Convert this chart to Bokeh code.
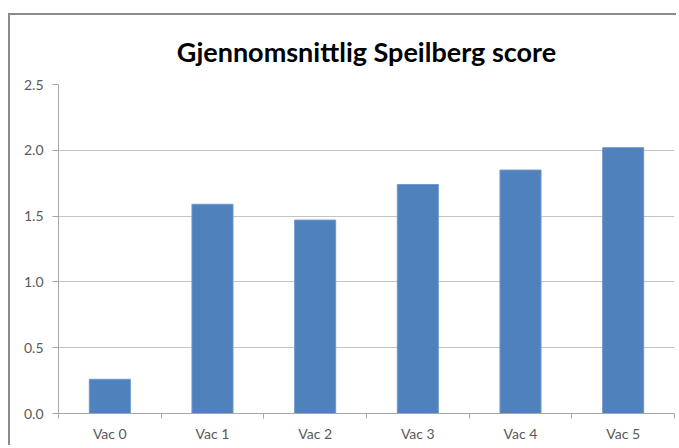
from bokeh.plotting import figure
from bokeh.models import FixedTicker, Range1d
from bokeh.embed import file_html
from bokeh.resources import INLINE

categories = ["Vac 0", "Vac 1", "Vac 2", "Vac 3", "Vac 4", "Vac 5"]
scores = [0.26, 1.59, 1.47, 1.74, 1.85, 2.02]
y_ticks = [0.0, 0.5, 1.0, 1.5, 2.0, 2.5]
y_labels = ["0.0", "0.5", "1.0", "1.5", "2.0", "2.5"]

xs = [i + 0.5 for i in range(len(categories))]

p = figure(width=668, height=432, output_backend="svg", toolbar_location=None,
           x_range=Range1d(0, len(categories)), y_range=Range1d(0, 2.5),
           min_border_left=48, min_border_right=4, min_border_bottom=34, min_border_top=69,
           margin=(13, 0, 0, 8),
           styles={"border-top": "2px solid #8a8a8a", "border-left": "2px solid #8a8a8a"})

p.title.text = "Gjennomsnittlig Speilberg score"
p.title.align = "center"
p.title.text_font = "Lato"
p.title.text_font_size = "27px"
p.title.text_font_style = "bold"
p.title.text_color = "#000000"
p.title.standoff = 34

p.vbar(x=xs, top=scores, width=0.4, fill_color="#4F81BD", line_color="#7199c9", line_width=1)

p.outline_line_color = None
p.background_fill_color = "white"
p.border_fill_color = "white"

# y axis
p.yaxis.ticker = FixedTicker(ticks=y_ticks)
p.yaxis.major_label_overrides = {t: l for t, l in zip(y_ticks, y_labels)}
p.yaxis.axis_line_color = "#a6a6a6"
p.yaxis.major_tick_line_color = "#a6a6a6"
p.yaxis.major_tick_out = 6
p.yaxis.major_tick_in = 0
p.yaxis.minor_tick_line_color = None
p.yaxis.major_label_text_font = "Lato"
p.yaxis.major_label_text_font_size = "14px"
p.yaxis.major_label_text_color = "#595959"
p.yaxis.major_label_standoff = 9

# x axis
p.xaxis.ticker = FixedTicker(ticks=xs, minor_ticks=list(range(len(categories) + 1)))
p.xaxis.major_label_overrides = {x: c for x, c in zip(xs, categories)}
p.xaxis.axis_line_color = "#a6a6a6"
p.xaxis.major_tick_line_color = None
p.xaxis.minor_tick_line_color = "#a6a6a6"
p.xaxis.minor_tick_out = 5
p.xaxis.minor_tick_in = 0
p.xaxis.major_label_text_font = "Lato"
p.xaxis.major_label_text_font_size = "14px"
p.xaxis.major_label_text_color = "#595959"
p.xaxis.major_label_standoff = 5

p.xgrid.grid_line_color = None
p.ygrid.ticker = FixedTicker(ticks=y_ticks)
p.ygrid.grid_line_color = "#c4c4c4"
p.ygrid.grid_line_width = 1

open("out.html", "w").write(file_html(p, INLINE))
